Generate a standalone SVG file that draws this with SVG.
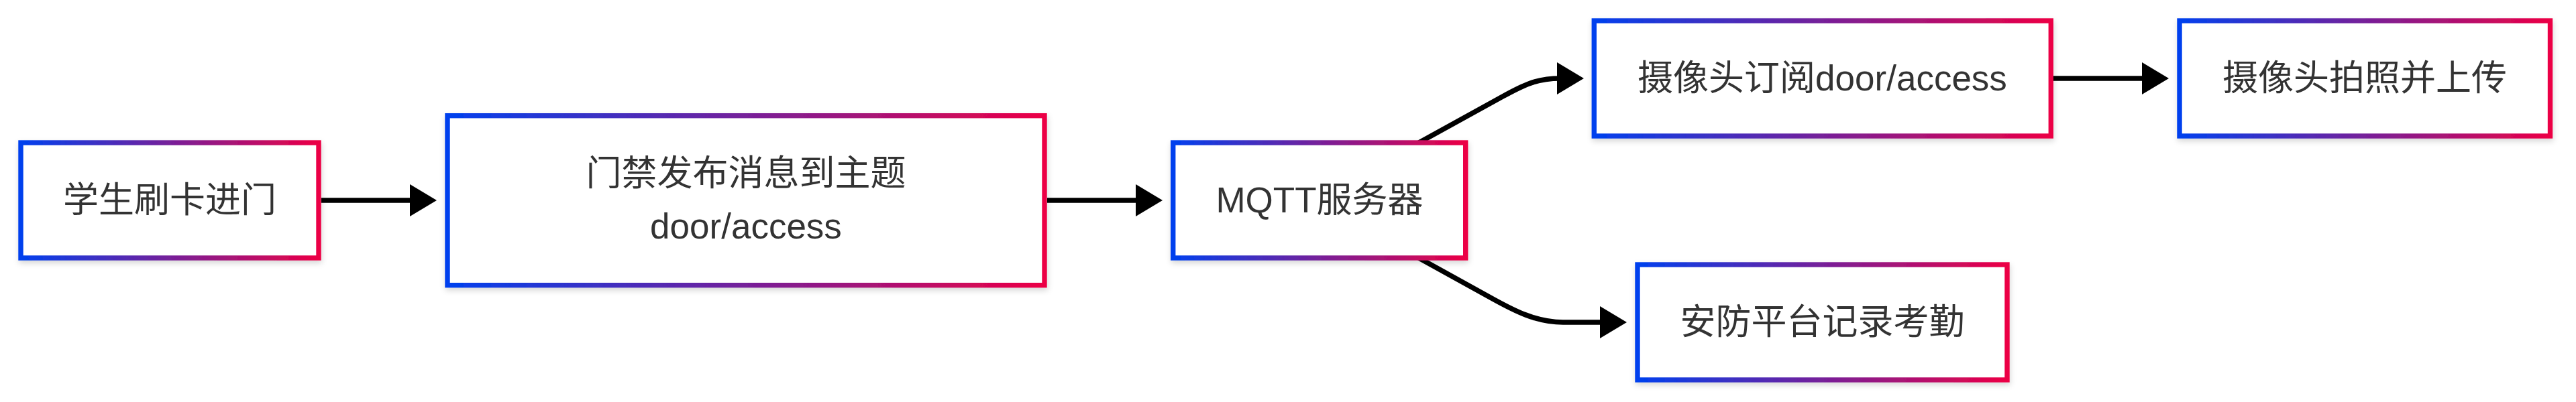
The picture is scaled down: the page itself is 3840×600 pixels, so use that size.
<svg xmlns="http://www.w3.org/2000/svg" width="3840" height="600" viewBox="0 0 3840 600">
<style>
.node rect{fill:#ffffff;stroke:url(#bg);stroke-width:7.4;filter:url(#sh)}
.node text{font-family:"Liberation Sans","Noto Sans CJK SC",sans-serif;font-size:53px;fill:#333333;text-anchor:middle}
.edge{fill:none;stroke:#000000;stroke-width:7.7;marker-end:url(#ah)}
</style>
<defs>
<linearGradient id="bg" x1="0" y1="0" x2="1" y2="0">
<stop offset="0" stop-color="#0040ee"/>
<stop offset="1" stop-color="#ec0045"/>
</linearGradient>
<filter id="sh" x="-10%" y="-20%" width="120%" height="150%">
<feDropShadow dx="1" dy="4" stdDeviation="4.5" flood-color="#000000" flood-opacity="0.16"/>
</filter>
<marker id="ah" viewBox="0 0 40 48" markerWidth="40" markerHeight="48" markerUnits="userSpaceOnUse" refX="5" refY="24" orient="auto">
<path d="M0,0 L40,24 L0,48 z" fill="#000000"/>
</marker>
</defs>
<g id="connectors">
<path class="edge" d="M479,299 L616,299"/>
<path class="edge" d="M1561,299 L1698,299"/>
<path class="edge" d="M2115,213 L2240,144 C2270,127.5 2290,117 2326,117"/>
<path class="edge" d="M3061,117 L3198,117"/>
<path class="edge" d="M2115,385 L2227,447 C2257,463.5 2290,481 2330,481 L2390,481"/>
</g>
<g id="n1" class="node">
<rect x="31" y="213" width="444" height="172"/>
<text x="253" y="316.5">学生刷卡进门</text>
</g>
<g id="n2" class="node">
<rect x="667" y="172.7" width="890" height="253"/>
<text x="1112" y="277">门禁发布消息到主题</text>
<text x="1112" y="356">door/access</text>
</g>
<g id="n3" class="node">
<rect x="1748.7" y="213" width="436" height="172"/>
<text x="1967" y="316.5">MQTT服务器</text>
</g>
<g id="n4" class="node">
<rect x="2376.3" y="31" width="681" height="172"/>
<text x="2716.5" y="134.5">摄像头订阅door/access</text>
</g>
<g id="n5" class="node">
<rect x="3249" y="31" width="552.5" height="172"/>
<text x="3525" y="134.5">摄像头拍照并上传</text>
</g>
<g id="n6" class="node">
<rect x="2441" y="395" width="551" height="172"/>
<text x="2716.5" y="498.5">安防平台记录考勤</text>
</g>
</svg>
